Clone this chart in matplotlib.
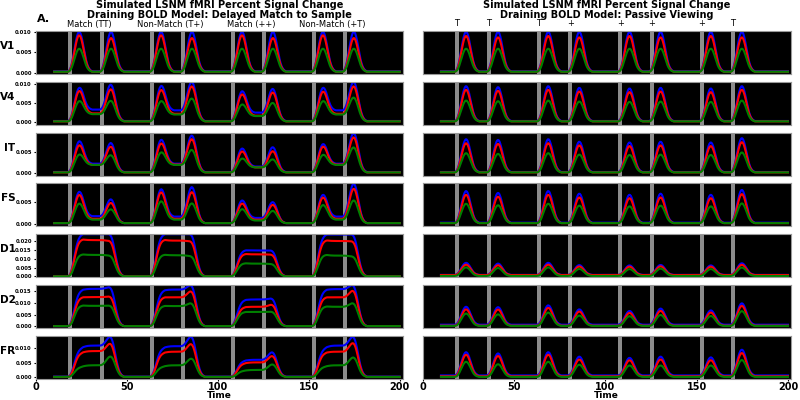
import numpy as np
import matplotlib
matplotlib.use("Agg")
import matplotlib.pyplot as plt

regions = ["V1", "V4", "IT", "FS", "D1", "D2", "FR"]
dms_labels = ["Match (TT)", "Non-Match (T+)", "Match (++)", "Non-Match (+T)"]
pv_labels = ["T", "T", "T", "+", "+", "+", "+", "T"]

# stimulus onsets (gray bars), shared by both tasks
bar_starts = [17.7, 35.2, 62.6, 79.8, 107.1, 124.3, 151.6, 168.8]
bar_width = 2.2
stim_dur = 5.0

# hemodynamic kernel at half-unit lags
hrf = [0.02, 0.045, 0.08, 0.125, 0.17, 0.205, 0.23, 0.225, 0.21,
       0.18, 0.15, 0.115, 0.08, 0.06, 0.04, 0.03, 0.02]

ylims = [(-0.00036, 0.01033), (-0.0007, 0.0106), (-0.00057, 0.00976),
         (-0.00055, 0.00932), (-0.0004, 0.0237), (-0.0007, 0.01754),
         (-0.00056, 0.01429)]
yticks = [[0, 0.005, 0.01], [0, 0.005, 0.01], [0, 0.005], [0, 0.005],
          [0, 0.005, 0.01, 0.015, 0.02], [0, 0.005, 0.01, 0.015],
          [0, 0.005, 0.01]]

# ---- delayed match to sample: neural drive per trial (rows = regions)
dms_s1_blue = [[0.0115, 0.0115, 0.0115, 0.0115],
               [0.0100, 0.0106, 0.0090, 0.0100],
               [0.0085, 0.0089, 0.0065, 0.0077],
               [0.0083, 0.0090, 0.0060, 0.0075],
               [0.0236, 0.0236, 0.0146, 0.0234],
               [0.0152, 0.0150, 0.0110, 0.0152],
               [0.0098, 0.0098, 0.0054, 0.0098]]
dms_delay_blue = [[0.0, 0.0, 0.0, 0.0],
                  [0.0030, 0.0028, 0.0022, 0.0028],
                  [0.0020, 0.0020, 0.0013, 0.0020],
                  [0.0016, 0.0015, 0.0012, 0.0015],
                  [0.0236, 0.0236, 0.0145, 0.0234],
                  [0.0158, 0.0155, 0.0113, 0.0157],
                  [0.0107, 0.0105, 0.0058, 0.0107]]
dms_s2_blue = [[0.0115, 0.0115, 0.0115, 0.0115],
               [0.0108, 0.0117, 0.0096, 0.0117],
               [0.0079, 0.0100, 0.0068, 0.0107],
               [0.0062, 0.0095, 0.0055, 0.0104],
               [0.0236, 0.0236, 0.0144, 0.0234],
               [0.0167, 0.0179, 0.0118, 0.0179],
               [0.0145, 0.0146, 0.0090, 0.0145]]

dms_s1_red = [[0.0106, 0.0106, 0.0106, 0.0106],
              [0.0092, 0.0095, 0.0082, 0.0090],
              [0.0075, 0.0080, 0.0058, 0.0071],
              [0.0075, 0.0082, 0.0052, 0.0068],
              [0.0208, 0.0206, 0.0126, 0.0203],
              [0.0122, 0.0122, 0.0080, 0.0122],
              [0.0082, 0.0082, 0.0046, 0.0082]]
dms_delay_red = [[0.0, 0.0, 0.0, 0.0],
                 [0.0021, 0.0020, 0.0015, 0.0020],
                 [0.0018, 0.0019, 0.0012, 0.0019],
                 [0.0010, 0.0010, 0.0008, 0.0010],
                 [0.0203, 0.0200, 0.0123, 0.0198],
                 [0.0123, 0.0122, 0.0082, 0.0122],
                 [0.0089, 0.0087, 0.0050, 0.0087]]
dms_s2_red = [[0.0098, 0.0098, 0.0098, 0.0098],
              [0.0096, 0.0105, 0.0087, 0.0105],
              [0.0070, 0.0091, 0.0058, 0.0096],
              [0.0053, 0.0082, 0.0048, 0.0091],
              [0.0197, 0.0195, 0.0121, 0.0195],
              [0.0126, 0.0154, 0.0093, 0.0157],
              [0.0121, 0.0120, 0.0077, 0.0124]]

dms_s1_green = [[0.0067, 0.0067, 0.0067, 0.0067],
                [0.0061, 0.0061, 0.0051, 0.0061],
                [0.0049, 0.0055, 0.0038, 0.0048],
                [0.0052, 0.0058, 0.0037, 0.0048],
                [0.0124, 0.0122, 0.0074, 0.0122],
                [0.0088, 0.0086, 0.0060, 0.0084],
                [0.0034, 0.0035, 0.0021, 0.0035]]
dms_delay_green = [[0.0, 0.0, 0.0, 0.0],
                   [0.0019, 0.0018, 0.0014, 0.0018],
                   [0.0018, 0.0018, 0.0012, 0.0018],
                   [0.0008, 0.0008, 0.0006, 0.0008],
                   [0.0120, 0.0118, 0.0071, 0.0116],
                   [0.0086, 0.0085, 0.0060, 0.0082],
                   [0.0040, 0.0040, 0.0024, 0.0040]]
dms_s2_green = [[0.0067, 0.0067, 0.0067, 0.0067],
                [0.0061, 0.0068, 0.0055, 0.0071],
                [0.0046, 0.0061, 0.0035, 0.0068],
                [0.0036, 0.0052, 0.0032, 0.0060],
                [0.0115, 0.0112, 0.0068, 0.0110],
                [0.0087, 0.0100, 0.0061, 0.0101],
                [0.0077, 0.0068, 0.0047, 0.0073]]

dms_base_blue = [0.0003, 0.0003, 0.0003, 0.0002, 0.0001, 0.0001, 0.0002]
dms_base_red = [0.0002, 0.0002, 0.0002, 0.0002, 0.0001, 0.0001, 0.0001]
dms_base_green = [0.0002, 0.0002, 0.0002, 0.0002, 0.0001, 0.0001, 0.0001]

# ---- passive viewing: neural drive per stimulus
pv_blue = [[0.0115, 0.0115, 0.0115, 0.0115, 0.0115, 0.0115, 0.0115, 0.0115],
           [0.0107, 0.0104, 0.0107, 0.0102, 0.0100, 0.0102, 0.0100, 0.0107],
           [0.0092, 0.0090, 0.0092, 0.0085, 0.0083, 0.0085, 0.0083, 0.0095],
           [0.0085, 0.0080, 0.0085, 0.0078, 0.0075, 0.0078, 0.0075, 0.0088],
           [0.0079, 0.0074, 0.0079, 0.0064, 0.0062, 0.0065, 0.0062, 0.0076],
           [0.0089, 0.0087, 0.0096, 0.0076, 0.0068, 0.0080, 0.0071, 0.0106],
           [0.0094, 0.0089, 0.0094, 0.0076, 0.0071, 0.0076, 0.0073, 0.0104]]
pv_red = [[0.0104, 0.0100, 0.0104, 0.0100, 0.0104, 0.0100, 0.0104, 0.0100],
          [0.0097, 0.0094, 0.0097, 0.0092, 0.0090, 0.0092, 0.0090, 0.0097],
          [0.0082, 0.0080, 0.0082, 0.0076, 0.0074, 0.0076, 0.0074, 0.0085],
          [0.0076, 0.0071, 0.0076, 0.0069, 0.0067, 0.0069, 0.0067, 0.0078],
          [0.0068, 0.0064, 0.0068, 0.0056, 0.0055, 0.0057, 0.0055, 0.0067],
          [0.0081, 0.0080, 0.0088, 0.0070, 0.0063, 0.0073, 0.0065, 0.0098],
          [0.0087, 0.0082, 0.0087, 0.0068, 0.0065, 0.0068, 0.0065, 0.0094]]
pv_green = [[0.0067, 0.0067, 0.0067, 0.0067, 0.0067, 0.0067, 0.0067, 0.0067],
            [0.0064, 0.0062, 0.0064, 0.0061, 0.0060, 0.0061, 0.0060, 0.0064],
            [0.0054, 0.0052, 0.0054, 0.0050, 0.0049, 0.0050, 0.0049, 0.0056],
            [0.0052, 0.0048, 0.0052, 0.0047, 0.0045, 0.0047, 0.0045, 0.0053],
            [0.0056, 0.0052, 0.0056, 0.0046, 0.0045, 0.0048, 0.0045, 0.0055],
            [0.0061, 0.0057, 0.0066, 0.0051, 0.0048, 0.0054, 0.0049, 0.0073],
            [0.0061, 0.0051, 0.0061, 0.0049, 0.0046, 0.0046, 0.0046, 0.0068]]

pv_base_blue = [0.0003, 0.0003, 0.0003, 0.0003, 0.0009, 0.0007, 0.0006]
pv_base_red = [0.0002, 0.0002, 0.0002, 0.0002, 0.0008, 0.0003, 0.0003]
pv_base_green = [0.0002, 0.0002, 0.0002, 0.0002, 0.0003, 0.0002, 0.0001]

t = np.arange(10, 200.5, 0.5)
kernel = np.array(hrf) / np.sum(hrf)


def bold(segments, base):
    drive = np.zeros_like(t)
    for start, stop, amp in segments:
        drive[(t >= start) & (t < stop)] += amp
    return base + np.convolve(drive, kernel)[:len(t)]


def dms_segments(s1, delay, s2):
    segs = []
    for i in range(4):
        a, b = bar_starts[2 * i], bar_starts[2 * i + 1]
        segs.append((a, a + stim_dur, s1[i]))
        segs.append((a + stim_dur, b, delay[i]))
        segs.append((b, b + stim_dur, s2[i]))
    return segs


def pv_segments(amps):
    return [(s, s + stim_dur, a) for s, a in zip(bar_starts, amps)]


fig = plt.figure(figsize=(8, 4), dpi=100)
W, H = 800.0, 400.0
row_h = 43.0
col_x = [(36.0, 402.5), (422.7, 790.7)]

for r, name in enumerate(regions):
    top = 31.0 + r * 50.8
    for c in range(2):
        x0, x1 = col_x[c]
        ax = fig.add_axes([x0 / W, 1 - (top + row_h) / H, (x1 - x0) / W, row_h / H])
        ax.set_facecolor("black")
        for s in bar_starts:
            ax.axvspan(s, s + bar_width, color="0.55", lw=0, zorder=1)
        if c == 0:
            curves = [
                (bold(dms_segments(dms_s1_blue[r], dms_delay_blue[r], dms_s2_blue[r]), dms_base_blue[r]), "blue"),
                (bold(dms_segments(dms_s1_red[r], dms_delay_red[r], dms_s2_red[r]), dms_base_red[r]), "red"),
                (bold(dms_segments(dms_s1_green[r], dms_delay_green[r], dms_s2_green[r]), dms_base_green[r]), "green"),
            ]
        else:
            curves = [
                (bold(pv_segments(pv_blue[r]), pv_base_blue[r]), "blue"),
                (bold(pv_segments(pv_red[r]), pv_base_red[r]), "red"),
                (bold(pv_segments(pv_green[r]), pv_base_green[r]), "green"),
            ]
        for y, col in curves:
            ax.plot(t, y, color=col, lw=1.5, zorder=2)
        ax.set_xlim(0, 201.5)
        ax.set_ylim(*ylims[r])
        for sp in ax.spines.values():
            sp.set_color("0.6")
            sp.set_linewidth(0.8)
        if c == 0:
            ax.set_yticks(yticks[r])
            ax.set_yticklabels(["%.3f" % v for v in yticks[r]], fontsize=3.8,
                               fontweight="bold")
            ax.tick_params(axis="y", length=1.5, pad=1.5)
        else:
            ax.set_yticks([])
        if r == len(regions) - 1:
            ax.set_xticks([0, 50, 100, 150, 200])
            ax.set_xticklabels(["0", "50", "100", "150", "200"], fontsize=7,
                               fontweight="bold")
            ax.tick_params(axis="x", length=1.5, pad=0.5)
            ax.set_xlabel("Time", fontsize=6.5, fontweight="bold", labelpad=-0.5)
        else:
            ax.set_xticks([])
        if r == 0:
            if c == 0:
                for i, lab in enumerate(dms_labels):
                    mid = (bar_starts[2 * i] + bar_starts[2 * i + 1] + bar_width) / 2 + 1.5
                    ax.text(mid, 1.15, lab, transform=ax.get_xaxis_transform(),
                            ha="center", va="center", fontsize=6)
            else:
                for s, lab in zip(bar_starts, pv_labels):
                    ax.text(s + bar_width / 2, 1.17, lab,
                            transform=ax.get_xaxis_transform(), ha="center",
                            va="center", fontsize=6)
    fig.text(15.5 / W, 1 - (top + row_h / 2 - 6.5) / H, name, ha="right",
             va="center", fontsize=7.5, fontweight="bold")

titles = ["Draining BOLD Model: Delayed Match to Sample",
          "Draining BOLD Model: Passive Viewing"]
for c in range(2):
    cx = (col_x[c][0] + col_x[c][1]) / 2 / W
    fig.text(cx, 1 - 5.5 / H, "Simulated LSNM fMRI Percent Signal Change",
             ha="center", va="center", fontsize=7, fontweight="bold")
    fig.text(cx, 1 - 15.0 / H, titles[c], ha="center", va="center",
             fontsize=7, fontweight="bold")

fig.text(36.7 / W, 1 - 18.8 / H, "A.", ha="left", va="center", fontsize=8,
         fontweight="bold")

fig.savefig("out.png", dpi=100)
